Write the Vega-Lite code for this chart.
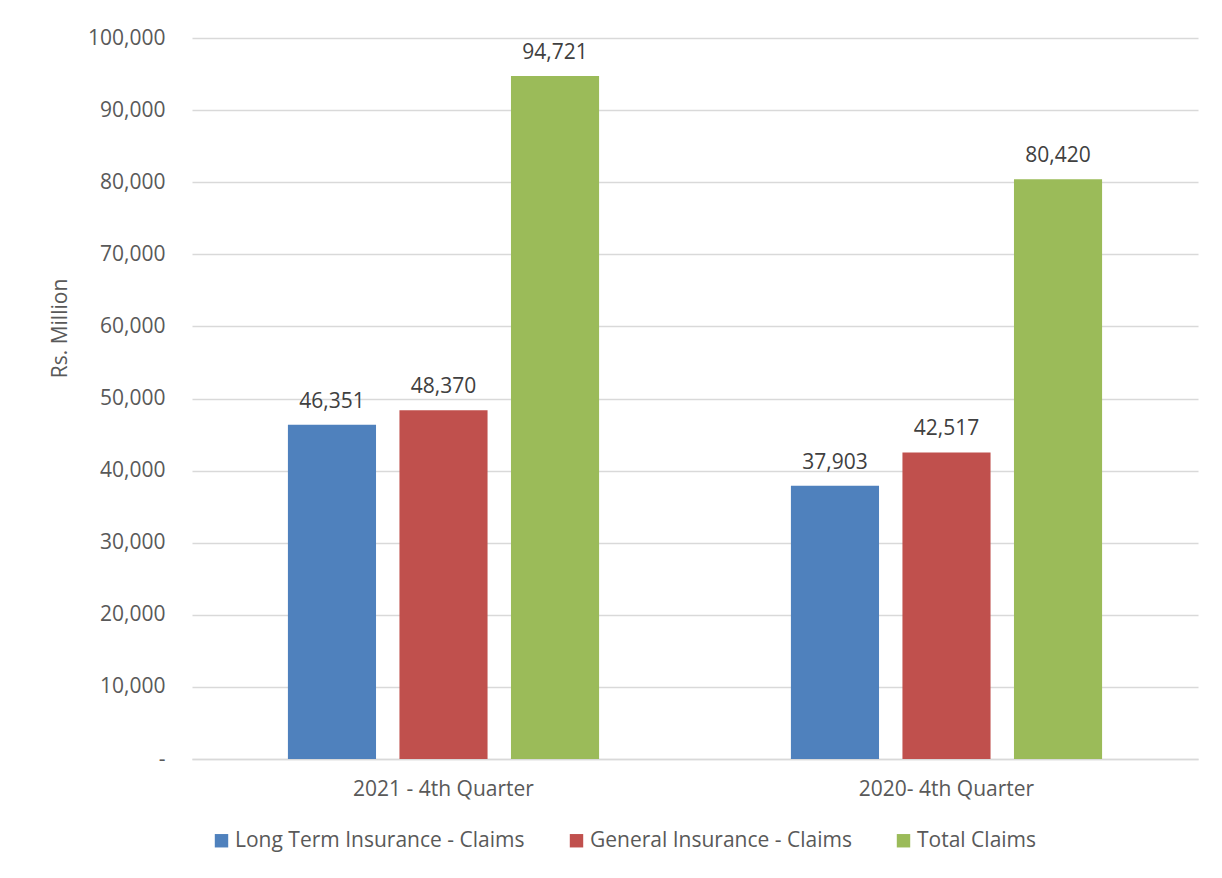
{
  "$schema": "https://vega.github.io/schema/vega-lite/v6.json",
  "autosize": {"type": "none"},
  "width": 1006,
  "height": 721,
  "padding": {"left": 192, "top": 38, "right": 24, "bottom": 119},
  "background": "white",
  "data": {
    "values": [
      {"quarter": "2021 - 4th Quarter", "series": "Long Term Insurance - Claims", "value": 46351},
      {"quarter": "2021 - 4th Quarter", "series": "General Insurance - Claims", "value": 48370},
      {"quarter": "2021 - 4th Quarter", "series": "Total Claims", "value": 94721},
      {"quarter": "2020- 4th Quarter", "series": "Long Term Insurance - Claims", "value": 37903},
      {"quarter": "2020- 4th Quarter", "series": "General Insurance - Claims", "value": 42517},
      {"quarter": "2020- 4th Quarter", "series": "Total Claims", "value": 80420}
    ]
  },
  "encoding": {
    "x": {
      "field": "quarter", "type": "nominal", "sort": null,
      "scale": {"paddingInner": 0, "paddingOuter": 0},
      "axis": {"title": null, "labelAngle": 0, "ticks": false, "labelPadding": 19, "labelLimit": 500, "labelFontSize": 21, "labelColor": "#595959", "labelFont": "Open Sans", "domainColor": "#d9d9d9", "domainWidth": 1.5}
    },
    "xOffset": {
      "field": "series", "type": "nominal",
      "sort": ["Long Term Insurance - Claims", "General Insurance - Claims", "Total Claims"],
      "scale": {"paddingInner": 0.21, "paddingOuter": 0.86}
    },
    "y": {
      "field": "value", "type": "quantitative",
      "scale": {"domain": [0, 100000]},
      "axis": {
        "title": "Rs. Million", "values": [0,10000,20000,30000,40000,50000,60000,70000,80000,90000,100000],
        "labelExpr": "datum.value == 0 ? '-' : format(datum.value, ',')",
        "labelOverlap": false,
        "ticks": false, "domain": false, "labelPadding": 27,
        "labelFontSize": 21, "labelColor": "#595959", "labelFont": "Open Sans",
        "gridColor": "#d9d9d9", "gridWidth": 1.3,
        "titleFont": "Open Sans", "titleFontSize": 21, "titleFontWeight": "normal", "titleColor": "#595959",
        "titleX": -132, "titleY": 290, "titleAngle": -90, "titleAlign": "center", "titleBaseline": "middle"
      }
    }
  },
  "layer": [
    {
      "mark": {"type": "bar"},
      "encoding": {
        "color": {
          "field": "series", "type": "nominal",
          "scale": {"domain": ["Long Term Insurance - Claims", "General Insurance - Claims", "Total Claims"], "range": ["#4F81BD", "#C0504D", "#9BBB59"]},
          "legend": {
            "title": null, "orient": "none", "direction": "horizontal", "legendX": 19, "legendY": 792,
            "symbolType": "square", "symbolSize": 180, "symbolStrokeWidth": 0, "symbolOpacity": 1,
            "labelFont": "Open Sans", "labelFontSize": 21, "labelColor": "#595959", "labelOffset": 3,
            "columnPadding": 41, "labelLimit": 400
          }
        }
      }
    },
    {
      "mark": {"type": "text", "baseline": "bottom", "dy": -13, "font": "Open Sans", "fontSize": 21, "color": "#404040"},
      "encoding": {
        "text": {"field": "value", "type": "quantitative", "format": ","}
      }
    }
  ],
  "config": {"view": {"stroke": null}}
}
